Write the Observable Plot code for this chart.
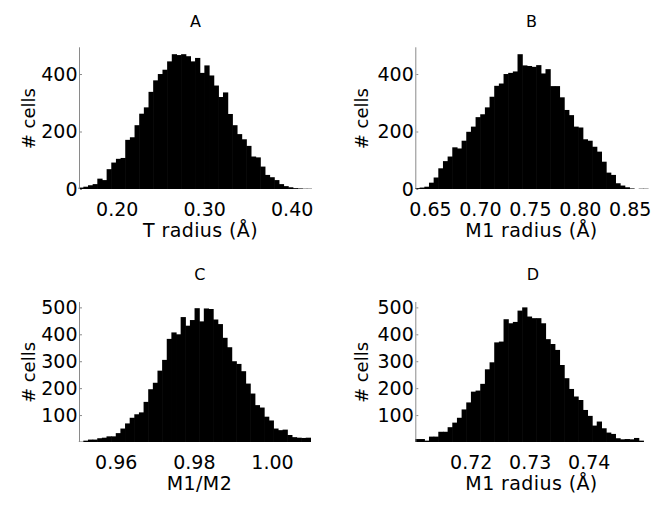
<!DOCTYPE html>
<html><head><meta charset="utf-8">
<script src="https://cdn.jsdelivr.net/npm/d3@7"></script>
<script src="https://cdn.jsdelivr.net/npm/@observablehq/plot@0.6"></script>
<style>
html,body{margin:0;padding:0;background:#fff;}
#chart{position:relative;width:667px;height:505px;overflow:hidden;font-family:"DejaVu Sans",sans-serif;}
#chart svg{position:absolute;overflow:visible;}
</style></head><body><div id="chart"></div>
<script>
// ---- data ----
const titles = ["A", "B", "C", "D"];
const xLabels = ["T radius (Å)", "M1 radius (Å)", "M1/M2", "M1 radius (Å)"];
const yLabel = "# cells";

// histogram counts (one value per bin)
const countsA = [5, 8, 13, 17, 36, 31, 69, 92, 105, 108, 171, 180, 222, 262, 284, 338, 378, 400, 415, 444,
  469, 466, 469, 462, 444, 456, 404, 430, 395, 360, 320, 336, 261, 222, 191, 173, 150, 113, 110, 78,
  49, 41, 31, 17, 10, 6, 3, 2, 1, 1];
const countsB = [3, 5, 8, 22, 40, 72, 97, 113, 145, 141, 168, 199, 217, 250, 260, 284, 321, 359, 367, 400,
  404, 409, 469, 430, 428, 425, 431, 402, 417, 358, 358, 319, 275, 257, 217, 214, 173, 168, 147, 130,
  95, 57, 49, 20, 12, 6, 2, 0, 1, 1];
const countsC = [1, 5, 9, 9, 14, 16, 21, 21, 33, 50, 69, 90, 103, 110, 149, 196, 220, 265, 305, 383,
  407, 400, 464, 432, 453, 497, 448, 496, 494, 455, 438, 387, 352, 300, 290, 263, 217, 180, 137, 128,
  94, 80, 50, 44, 46, 26, 18, 16, 15, 16];
const countsD = [11, 11, 5, 20, 20, 38, 38, 55, 72, 90, 121, 147, 187, 191, 216, 270, 296, 370, 373, 456,
  441, 446, 488, 500, 466, 460, 460, 441, 382, 364, 342, 286, 237, 197, 169, 156, 119, 97, 61, 76,
  51, 35, 30, 14, 10, 11, 10, 15, 5];

// bin lower edge of first bin and bin width (data units)
const binStart = [0.1569, 0.6353, 0.9506, 0.7106];
const binWidth = [0.00532, 0.004666, 0.001186, 0.000790];

// axis domains and ticks
const xDomains = [[0.1569, 0.4229], [0.6353, 0.8686], [0.9506, 1.0099], [0.7106, 0.7501]];
const xTicksA = [0.20, 0.30, 0.40];
const xTicksB = [0.65, 0.70, 0.75, 0.80, 0.85];
const xTicksC = [0.96, 0.98, 1.00];
const xTicksD = [0.72, 0.73, 0.74];
const yDomainTop = [0, 493];
const yDomainBottom = [0, 520];
const yTicksTop = [0, 200, 400];
const yTicksBottom = [100, 200, 300, 400, 500];

// ---- layout (pixels) ----
const layouts = [
  {left: 0,   top: 0,   w: 333, h: 252, mL: 79,   mR: 21.3, mT: 47.3, mB: 63, tdx: -0.3, tdy: -25.8, ldx: 4.7,  ydx: -49.9},
  {left: 333, top: 0,   w: 334, h: 252, mL: 82.3, mR: 18.7, mT: 47.3, mB: 63, tdx: -0.8, tdy: -25.8, ldx: -0.8, ydx: -53.2},
  {left: 0,   top: 252, w: 333, h: 253, mL: 79,   mR: 22.3, mT: 50,   mB: 63, tdx: 4.4,  tdy: -27.3, ldx: 4.1,  ydx: -49.9},
  {left: 333, top: 252, w: 334, h: 253, mL: 82.3, mR: 18.7, mT: 50,   mB: 63, tdx: 0.5,  tdy: -28.1, ldx: -0.8, ydx: -53.2}
];

const panels = [
  {counts: countsA, xTicks: xTicksA, yDomain: yDomainTop, yTicks: yTicksTop},
  {counts: countsB, xTicks: xTicksB, yDomain: yDomainTop, yTicks: yTicksTop},
  {counts: countsC, xTicks: xTicksC, yDomain: yDomainBottom, yTicks: yTicksBottom},
  {counts: countsD, xTicks: xTicksD, yDomain: yDomainBottom, yTicks: yTicksBottom}
];

const axisGray = "#8a8a8a";
const chart = document.getElementById("chart");

panels.forEach((p, k) => {
  const L = layouts[k];
  const bins = p.counts.map((c, i) => ({
    x1: binStart[k] + i * binWidth[k],
    x2: binStart[k] + (i + 1) * binWidth[k],
    count: c
  }));
  const svg = Plot.plot({
    width: L.w, height: L.h,
    marginLeft: L.mL, marginRight: L.mR, marginTop: L.mT, marginBottom: L.mB,
    style: {fontFamily: "'DejaVu Sans', sans-serif", fontSize: "19px", color: "black", background: "transparent", overflow: "visible"},
    x: {domain: xDomains[k], axis: null},
    y: {domain: p.yDomain, axis: null},
    marks: [
      Plot.rectY(bins, {x1: "x1", x2: "x2", y: "count", fill: "black", insetLeft: -0.3, insetRight: -0.3}),
      Plot.ruleX([xDomains[k][0]], {stroke: axisGray, strokeWidth: 1}),
      Plot.axisY(p.yTicks, {anchor: "right", frameAnchor: "left", tickSize: 2, tickFormat: () => "", stroke: axisGray, label: null}),
      Plot.axisY(p.yTicks, {anchor: "left", tickSize: 0, tickPadding: 2, tickFormat: d3.format("d"), label: null, fontSize: 19}),
      Plot.axisX(p.xTicks, {anchor: "bottom", tickSize: 0, tickPadding: 12.5, tickFormat: d3.format(".2f"), label: null, fontSize: 19}),
      Plot.text([titles[k]], {text: d => d, frameAnchor: "top", lineAnchor: "middle", textAnchor: "middle", dy: L.tdy, dx: L.tdx, fontSize: 16}),
      Plot.text([xLabels[k]], {text: d => d, frameAnchor: "bottom", lineAnchor: "middle", textAnchor: "middle", dy: 41.5, dx: L.ldx, fontSize: 19}),
      Plot.text([yLabel], {text: d => d, frameAnchor: "left", lineAnchor: "middle", textAnchor: "middle", rotate: -90, dx: L.ydx, fontSize: 18})
    ]
  });
  svg.style.left = L.left + "px";
  svg.style.top = L.top + "px";
  d3.select(svg).selectAll("text").filter(function() { return xLabels.includes(this.textContent); })
    .style("letter-spacing", "0.4px");
  chart.appendChild(svg);
});
</script>
</body></html>
